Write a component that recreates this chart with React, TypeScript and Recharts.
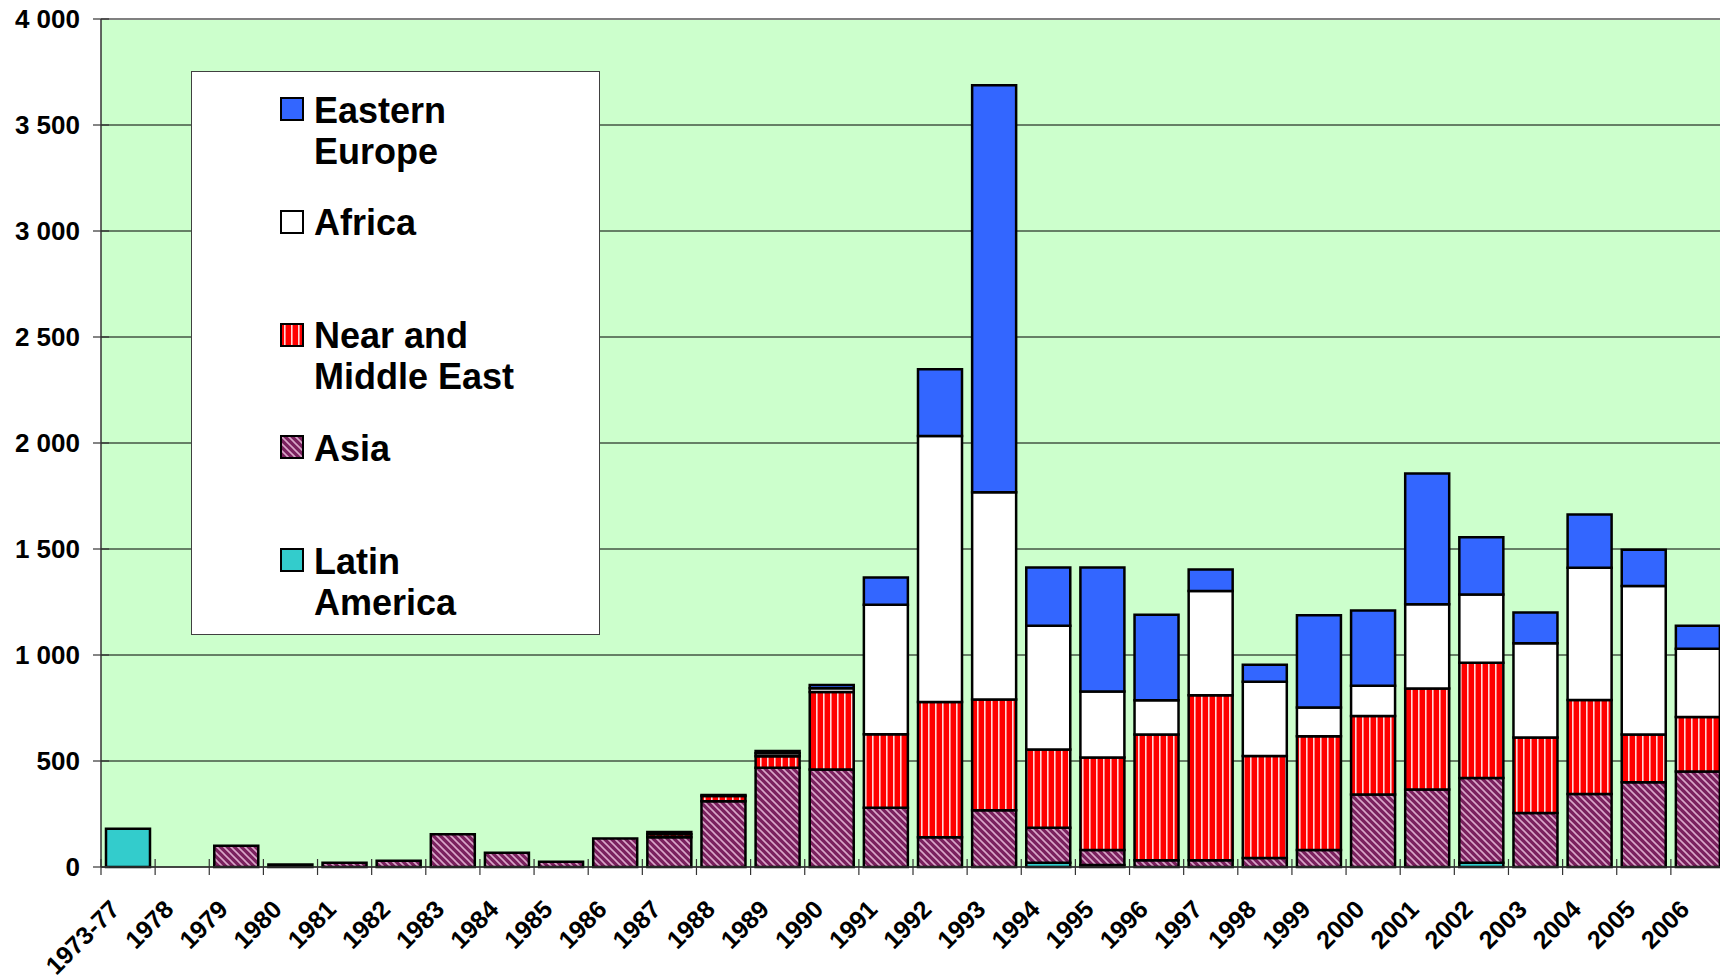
import React from 'react';
import { BarChart, Bar, XAxis, YAxis, CartesianGrid, ReferenceLine } from 'recharts';

const categories = ['1973-77','1978','1979','1980','1981','1982','1983','1984','1985','1986','1987','1988','1989','1990','1991','1992','1993','1994','1995','1996','1997','1998','1999','2000','2001','2002','2003','2004','2005','2006'];
const latinAmerica = [180,0,0,0,0,0,0,0,0,0,0,0,0,0,0,0,0,20,10,0,0,0,0,0,0,20,0,0,0,0];
const asia = [0,0,100,12,20,30,155,67,25,135,140,310,468,460,280,140,268,165,70,32,32,42,80,342,365,400,255,344,400,450];
const nearMiddleEast = [0,0,0,0,0,0,0,0,0,0,15,25,54,365,346,638,522,369,437,593,778,482,537,370,477,543,356,444,225,257];
const africa = [0,0,0,0,0,0,0,0,0,0,10,5,15,18,611,1255,978,584,311,161,492,350,135,143,397,322,444,624,700,323];
const easternEurope = [0,0,0,0,0,0,0,0,0,0,0,0,10,15,129,315,1920,275,585,404,101,80,435,355,617,271,145,251,172,108];
const yTicks = [0,500,1000,1500,2000,2500,3000,3500,4000];

const data = categories.map((c, i) => ({
  cat: c,
  latin: latinAmerica[i],
  asia: asia[i],
  nme: nearMiddleEast[i],
  africa: africa[i],
  ee: easternEurope[i],
}));

const series = [
  { key: 'latin', name: 'Latin America', lines: ['Latin', 'America'], fill: '#33CCCC' },
  { key: 'asia', name: 'Asia', lines: ['Asia'], fill: 'url(#patAsia)' },
  { key: 'nme', name: 'Near and Middle East', lines: ['Near and', 'Middle East'], fill: 'url(#patNME)' },
  { key: 'africa', name: 'Africa', lines: ['Africa'], fill: '#FFFFFF' },
  { key: 'ee', name: 'Eastern Europe', lines: ['Eastern', 'Europe'], fill: '#3366FF' },
];

const FONT = "Arial, 'Liberation Sans', sans-serif";
const fmt = (v: number) => (v >= 1000 ? `${Math.floor(v / 1000)} ${String(v % 1000).padStart(3, '0')}` : String(v));

const XTick = (props: any) => {
  const { x, y, payload } = props;
  const off = payload && payload.offset != null ? payload.offset : 27;
  const ax = x - 7;
  const ay = y + 44;
  return (
    <g>
      <line x1={x - off} x2={x - off} y1={y - 8} y2={y + 8} stroke="#333" strokeWidth={1.2} />
      <text x={ax} y={ay} transform={`rotate(-45 ${ax} ${ay})`} textAnchor="end" fontSize={25} fontWeight="bold" fontFamily={FONT} fill="#000">
        {payload.value}
      </text>
    </g>
  );
};

const YTick = (props: any) => {
  const { x, y, payload } = props;
  return (
    <g>
      <line x1={x - 8} x2={x + 8} y1={y} y2={y} stroke="#333" strokeWidth={1.2} />
      <text x={x - 21} y={y} dy="0.35em" textAnchor="end" fontSize={26} fontWeight="bold" fontFamily={FONT} fill="#000">
        {fmt(payload.value)}
      </text>
    </g>
  );
};

const Patterns = () => (
  <svg width={0} height={0} style={{ position: 'absolute' }}>
    <defs>
      <pattern id="patNME" patternUnits="userSpaceOnUse" width={7} height={7}>
        <rect x={0} y={0} width={7} height={7} fill="#FF0000" />
        <rect x={4} y={0} width={1.6} height={7} fill="#FFD8D8" />
      </pattern>
      <pattern id="patAsia" patternUnits="userSpaceOnUse" width={7} height={7}>
        <rect x={0} y={0} width={7} height={7} fill="#7A215E" />
        <path d="M-1,-1 L8,8 M-1,6 L1,8 M6,-1 L8,1" stroke="#D9A6C9" strokeWidth={1.6} />
      </pattern>
    </defs>
  </svg>
);

const LegendBox = () => {
  const items = [...series].reverse();
  return (
    <div style={{ position: 'absolute', left: 191, top: 71, width: 409, height: 564, boxSizing: 'border-box', border: '1px solid #404040', background: '#FFFFFF' }}>
      {items.map((s, i) => (
        <React.Fragment key={s.key}>
          <svg width={24} height={24} style={{ position: 'absolute', left: 88, top: 25 + 112.8 * i }}>
            <rect x={1} y={1} width={22} height={22} fill={s.fill} stroke="#000" strokeWidth={2} />
          </svg>
          <div style={{ position: 'absolute', left: 122, top: 17.5 + 112.8 * i, fontFamily: FONT, fontWeight: 'bold', fontSize: 36, lineHeight: '41px', color: '#000', whiteSpace: 'nowrap' }}>
            {s.lines.map((l) => (
              <div key={l}>{l}</div>
            ))}
          </div>
        </React.Fragment>
      ))}
    </div>
  );
};

export default function App() {
  return (
    <div style={{ position: 'fixed', left: 0, top: 0, width: 1720, height: 979, overflow: 'hidden', background: '#FFFFFF' }}>
      <Patterns />
      <BarChart width={1740} height={979} data={data} margin={{ top: 19, right: 15, bottom: 0, left: 0 }} barSize={44}>
        <CartesianGrid vertical={false} stroke="#000" strokeWidth={1} fill="#CCFFCC" />
        <XAxis dataKey="cat" height={112} interval={0} tickSize={0} tickMargin={0} tickLine={false} tick={<XTick />} stroke="#333" strokeWidth={1.5} />
        <YAxis type="number" domain={[0, 4000]} ticks={yTicks} width={101} interval={0} tickSize={0} tickMargin={0} tickLine={false} tick={<YTick />} stroke="#333" strokeWidth={1.5} />
        <ReferenceLine y={4000} stroke="#808080" strokeWidth={2} />
        {series.map((s) => (
          <Bar key={s.key} dataKey={s.key} name={s.name} stackId="a" fill={s.fill} stroke="#000" strokeWidth={2.5} isAnimationActive={false} />
        ))}
      </BarChart>
      <LegendBox />
    </div>
  );
}
